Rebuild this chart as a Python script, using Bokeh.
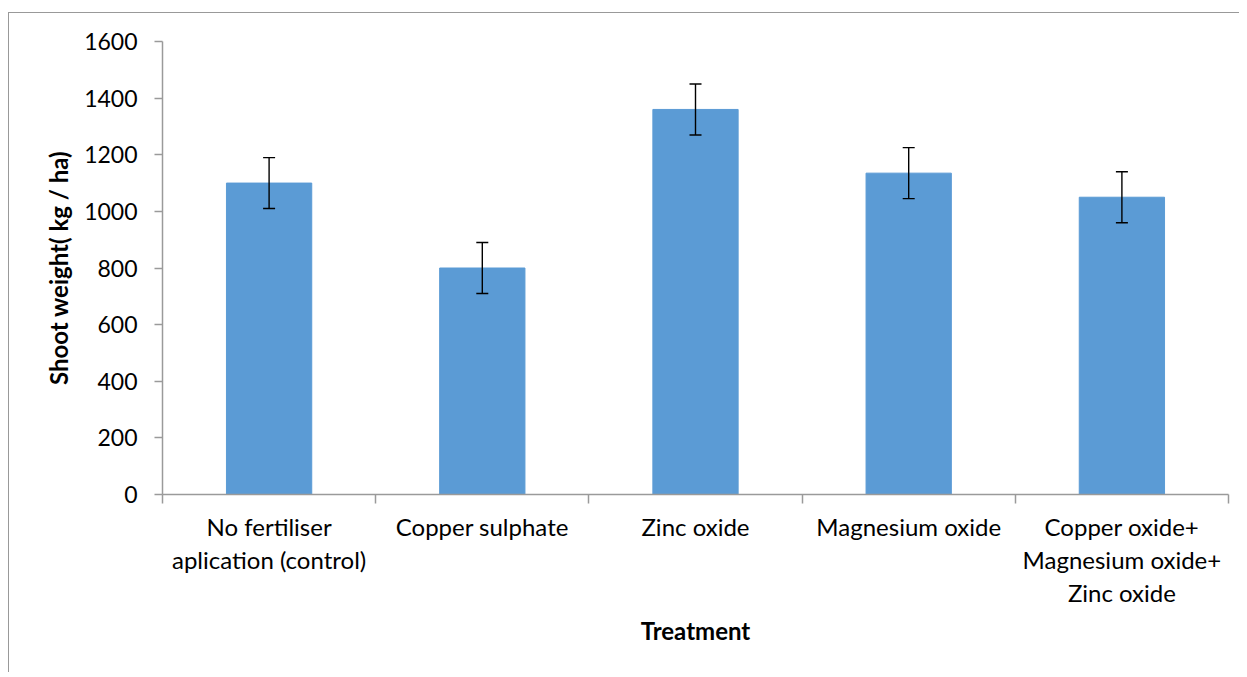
from bokeh.plotting import figure
from bokeh.models import ColumnDataSource, FixedTicker, Range1d, Whisker, TeeHead
from bokeh.embed import file_html
from bokeh.resources import INLINE

# ---- data ----
categories = [
    "No fertiliser\naplication (control)",
    "Copper sulphate",
    "Zinc oxide",
    "Magnesium oxide",
    "Copper oxide+\nMagnesium oxide+\nZinc oxide",
]
shoot_weight = [1100, 800, 1360, 1135, 1050]
std_error = [90, 90, 90, 90, 90]
y_ticks = [0, 200, 400, 600, 800, 1000, 1200, 1400, 1600]

positions = list(range(1, len(categories) + 1))
src = ColumnDataSource(dict(
    x=positions,
    top=shoot_weight,
    upper=[v + e for v, e in zip(shoot_weight, std_error)],
    lower=[v - e for v, e in zip(shoot_weight, std_error)],
))

AX = "#9a9a9a"
FONT = "Lato"

p = figure(width=1231, height=660,
           x_range=Range1d(0.5, len(categories) + 0.5),
           y_range=Range1d(y_ticks[0], y_ticks[-1]),
           output_backend="svg", toolbar_location=None,
           min_border_left=153, min_border_right=12,
           min_border_top=28, min_border_bottom=179)
p.styles = {"margin-left": "8px", "margin-top": "12px",
            "border-top": "1px solid #999999", "border-left": "1px solid #999999"}
p.outline_line_color = None
p.xgrid.grid_line_color = None
p.ygrid.grid_line_color = None
p.background_fill_color = "white"
p.border_fill_color = "white"

p.vbar(x="x", top="top", width=0.4, color="#5B9BD5", source=src)

head_u = TeeHead(size=12, line_color="black", line_width=1.4)
head_l = TeeHead(size=12, line_color="black", line_width=1.4)
p.add_layout(Whisker(base="x", upper="upper", lower="lower", source=src,
                     line_color="black", line_width=1.4, level="overlay",
                     upper_head=head_u, lower_head=head_l))

# x axis
xa = p.xaxis[0]
xa.ticker = FixedTicker(ticks=positions,
                        minor_ticks=[i + 0.5 for i in range(0, len(categories) + 1)])
xa.major_label_overrides = {pos: name for pos, name in zip(positions, categories)}
xa.major_tick_line_color = None
xa.major_tick_out = 0
xa.major_tick_in = 0
xa.minor_tick_line_color = AX
xa.minor_tick_out = 9
xa.minor_tick_in = 0
xa.axis_line_color = AX
xa.axis_line_width = 1.5
xa.minor_tick_line_width = 1.5
xa.major_label_text_font = FONT
xa.major_label_text_font_size = "24px"
xa.major_label_text_color = "black"
xa.major_label_text_line_height = 1.15
xa.major_label_standoff = 8
xa.axis_label = "Treatment"
xa.axis_label_text_font = FONT
xa.axis_label_text_font_size = "24px"
xa.axis_label_text_font_style = "bold"
xa.axis_label_text_color = "black"
xa.axis_label_standoff = 6

# y axis
ya = p.yaxis[0]
ya.ticker = FixedTicker(ticks=y_ticks)
ya.major_tick_out = 8
ya.major_tick_in = 0
ya.major_tick_line_color = AX
ya.major_tick_line_width = 1.5
ya.minor_tick_line_color = None
ya.axis_line_color = AX
ya.axis_line_width = 1.5
ya.major_label_text_font = FONT
ya.major_label_text_font_size = "23px"
ya.major_label_text_color = "black"
ya.major_label_standoff = 17
ya.axis_label = "Shoot weight( kg / ha)"
ya.axis_label_text_font = FONT
ya.axis_label_text_font_size = "24px"
ya.axis_label_text_font_style = "bold"
ya.axis_label_text_color = "black"
ya.axis_label_standoff = 8

open("out.html", "w").write(file_html(p, INLINE))
